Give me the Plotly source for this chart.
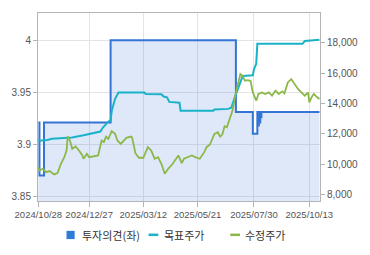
import plotly.graph_objects as go

# ---- data ----
tick_labels = ["2024/10/28", "2024/12/27", "2025/03/12", "2025/05/21", "2025/07/30", "2025/10/13"]
tick_idx = [0, 45, 93, 141, 191, 240]

# 투자의견(좌) (step series, left axis)
opinion_idx = [0, 1, 5, 64, 175, 190, 194, 194.7, 195.3, 196, 196.6, 197, 197.6, 249]
opinion_val = [3.921, 3.870, 3.921, 4.0, 3.931, 3.910, 3.931, 3.918, 3.931, 3.921, 3.931, 3.926, 3.931, 3.931]

# 목표주가 (right axis)
target_idx = [0, 8, 12, 30, 40, 50, 55, 57, 60, 62, 64, 65, 68, 71, 94, 95, 109, 111, 114, 116,
              125, 126, 155, 156, 168, 171, 174, 176, 179, 181, 190, 191, 193, 194, 234, 236, 249]
target_val = [11550, 11600, 11680, 11760, 11900, 12050, 12150, 12400, 12650, 12800, 12900, 13500,
              14300, 14720, 14720, 14620, 14600, 14450, 14400, 14100, 14050, 13520, 13520, 13600,
              13640, 13720, 14400, 14800, 15400, 15800, 15850, 16250, 16600, 17920, 17920, 18100, 18180]

# 수정주가 (right axis)
price_idx = [0, 1, 4, 7, 10, 14, 17, 20, 23, 25, 26, 28, 30, 33, 36, 39, 40, 43, 45, 49, 53, 56,
             58, 60, 62, 65, 68, 70, 73, 78, 82, 83, 86, 89, 93, 97, 100, 103, 106, 109, 112, 115,
             119, 124, 127, 129, 132, 136, 139, 143, 147, 149, 152, 156, 159, 161, 163, 165, 167,
             170, 172, 175, 177, 179, 181, 183, 185, 188, 190, 193, 195, 198, 201, 204, 207, 210,
             213, 216, 218, 221, 224, 227, 230, 233, 236, 239, 240, 242, 244, 247, 249]
price_val = [9809, 9592, 9700, 9480, 9547, 9330, 9416, 10030, 10466, 10900, 11820, 11560, 11015,
             11165, 10900, 10575, 10360, 10687, 10466, 10510, 10575, 11560, 11450, 11820, 11670,
             12170, 12000, 11560, 11340, 11735, 11820, 11775, 10726, 10425, 10425, 11120, 10900,
             10360, 10466, 10030, 9375, 9700, 10030, 10575, 10070, 10360, 10466, 10575, 10466,
             10360, 10792, 11120, 11296, 12000, 12100, 11820, 11950, 12500, 12430, 13085, 13525,
             14725, 15270, 15930, 15820, 15490, 15535, 15490, 14725, 14180, 14620, 14725, 14620,
             14725, 14510, 14835, 14620, 14790, 14660, 15380, 15600, 15270, 14950, 14725, 14510,
             14725, 14070, 14400, 14620, 14400, 14290]

legend_names = ["투자의견(좌)", "목표주가", "수정주가"]

# ---- styles ----
C_OP = "#3474d4"
C_TG = "#19b2c8"
C_PR = "#8cb84a"
FILL = "rgba(60,120,220,0.17)"

fig = go.Figure()
fig.add_trace(go.Scatter(x=opinion_idx, y=opinion_val, mode="lines", line=dict(color=C_OP, width=2, shape="hv"),
                         fill="tozeroy", fillcolor=FILL, showlegend=False, yaxis="y"))
fig.add_trace(go.Scatter(x=target_idx, y=target_val, mode="lines", line=dict(color=C_TG, width=2),
                         showlegend=False, yaxis="y2"))
fig.add_trace(go.Scatter(x=price_idx, y=price_val, mode="lines", line=dict(color=C_PR, width=1.8),
                         showlegend=False, yaxis="y2"))

L, R, T, B = 33, 47, 12, 54
W, H = 370, 255
pw, ph = W - L - R, H - T - B

def px(x):
    return (x - L) / pw

def py(y):
    return (H - B - y) / ph

# manual legend
ly = 235
fig.add_shape(type="rect", xref="paper", yref="paper", x0=px(62.3), x1=px(70.7), y0=py(239.3), y1=py(231),
              fillcolor="#2f7cd8", line=dict(width=0))
fig.add_shape(type="line", xref="paper", yref="paper", x0=px(146.7), x1=px(156.7), y0=py(ly), y1=py(ly),
              line=dict(color=C_TG, width=2.5))
fig.add_shape(type="line", xref="paper", yref="paper", x0=px(230.7), x1=px(240.7), y0=py(ly), y1=py(ly),
              line=dict(color=C_PR, width=2.5))
for xpos, name in zip([76.5, 160.5, 244], legend_names):
    fig.add_annotation(xref="paper", yref="paper", x=px(xpos), y=py(ly), text=name, showarrow=False,
                       xanchor="left", yanchor="middle",
                       font=dict(family="Noto Sans CJK KR", size=11, color="#333333"))

AX = "#b4b4b4"
tickfont = dict(family="Liberation Sans", size=10, color="#555555")
xtickfont = dict(family="Liberation Sans", size=9.5, color="#555555")
fig.update_layout(
    width=W, height=H, margin=dict(l=L, r=R, t=T, b=B),
    paper_bgcolor="white", plot_bgcolor="white", showlegend=False,
    xaxis=dict(range=[-0.3, 249.5], tickvals=tick_idx, ticktext=tick_labels, tickangle=0, showgrid=True,
               gridcolor="#e4e4e4", gridwidth=1, showline=True, linecolor=AX, mirror=True,
               ticks="outside", ticklen=5, tickcolor=AX, tickfont=xtickfont, zeroline=False),
    yaxis=dict(range=[3.8455, 4.0261], tickvals=[3.85, 3.9, 3.95, 4.0], ticktext=["3.85", "3.9", "3.95", "4"],
               showgrid=True, gridcolor="#e4e4e4", showline=True, linecolor=AX, ticks="outside",
               ticklen=4, tickcolor=AX, tickfont=tickfont, zeroline=False),
    yaxis2=dict(range=[7581, 19946], overlaying="y", side="right", tickvals=[8000, 10000, 12000, 14000, 16000, 18000],
                tickformat=",d", showgrid=False, showline=True, linecolor=AX, ticks="outside",
                ticklen=4, tickcolor=AX, tickfont=tickfont, zeroline=False),
)

fig.write_html("out.html")
